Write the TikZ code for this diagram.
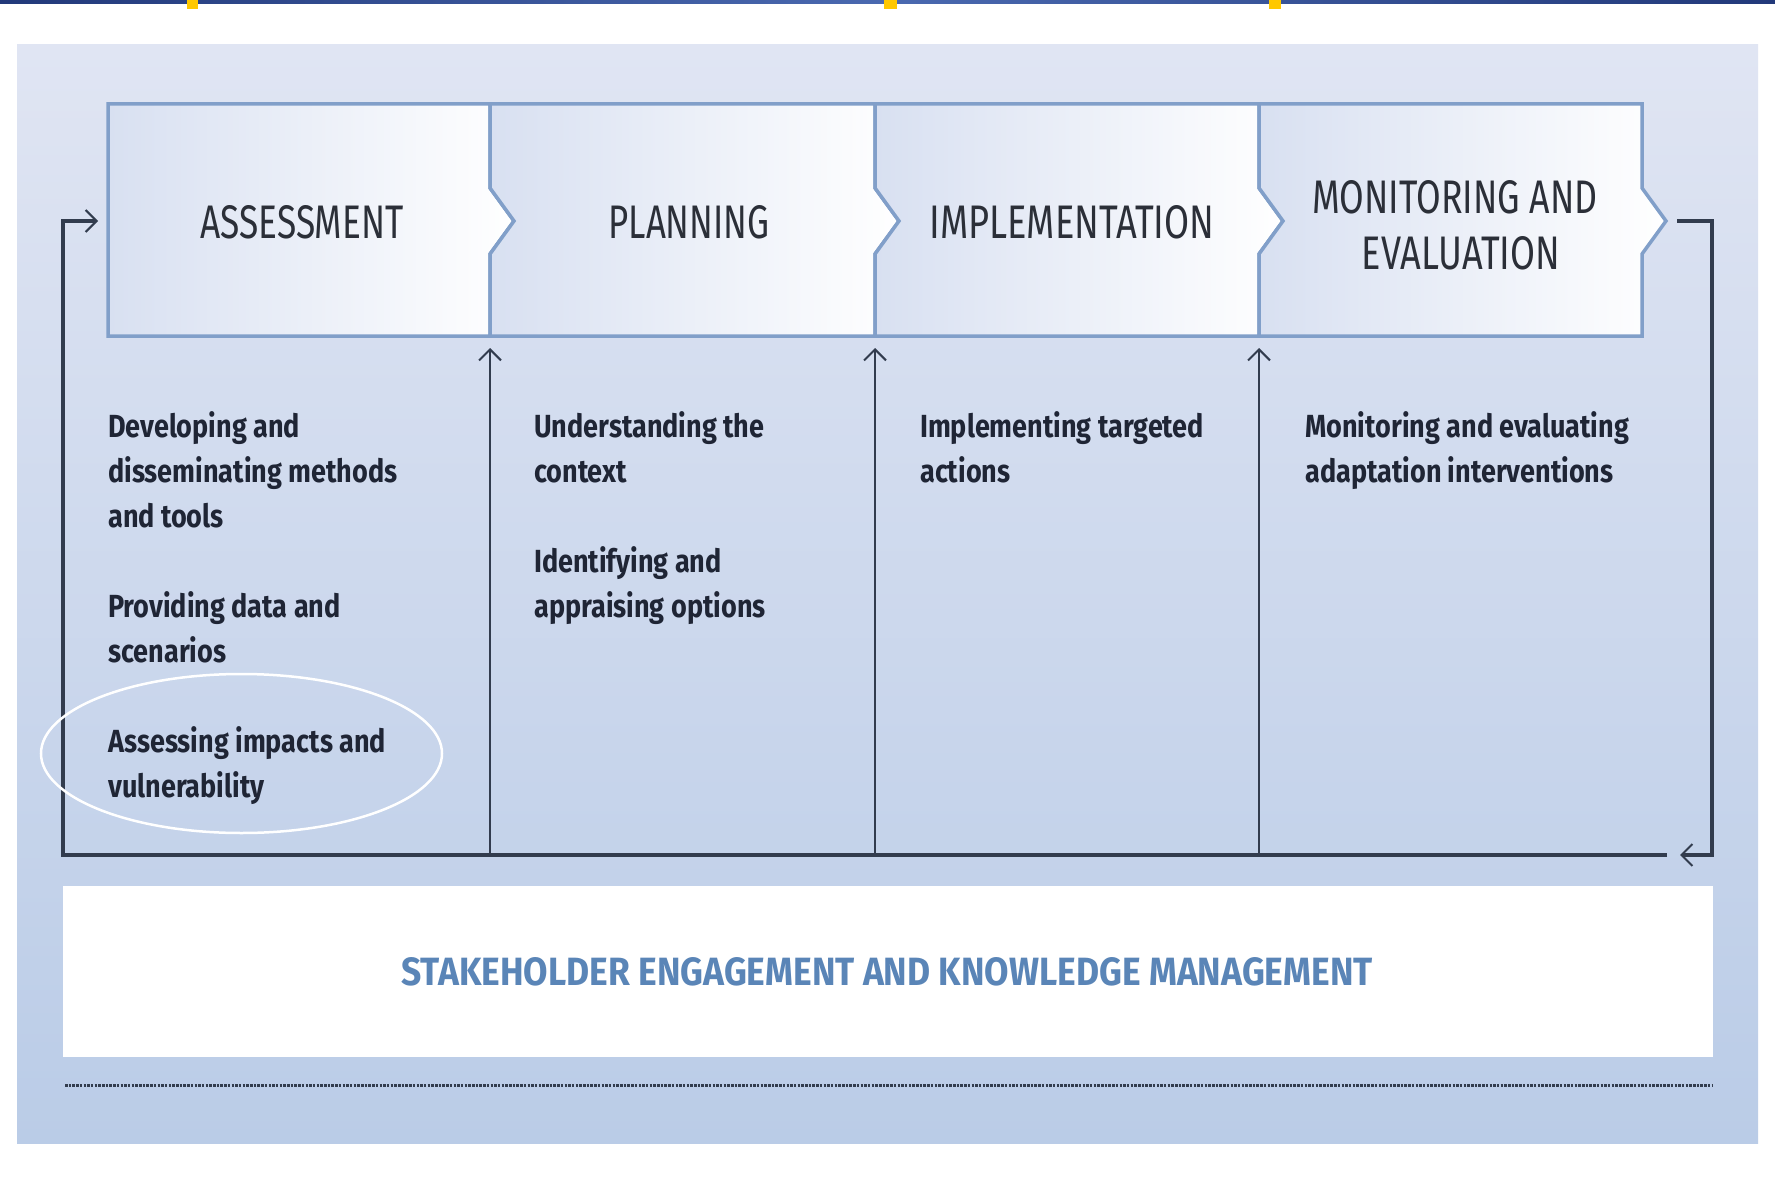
\documentclass[tikz,border=0pt]{standalone}
\usepackage{fontspec}
\setmainfont{Fira Sans}
\newfontfamily\headfont{Fira Sans}[FakeStretch=0.74]
\newfontfamily\bodyfont{Fira Sans}[FakeStretch=0.845]
\usetikzlibrary{arrows.meta}
\definecolor{panTop}{HTML}{E0E5F3}
\definecolor{panBot}{HTML}{BACCE7}
\definecolor{boxL}{HTML}{D8E0F1}
\definecolor{boxEdge}{HTML}{819FC9}
\definecolor{lineC}{HTML}{323C4E}
\definecolor{headC}{HTML}{2B2F38}
\definecolor{bodyC}{HTML}{1F2535}
\definecolor{stakeC}{HTML}{5A85B7}
\definecolor{barC}{HTML}{22397A}
\definecolor{barM}{HTML}{4A69B0}
\definecolor{yel}{HTML}{FFC800}
\tikzset{
  stagebox/.style={draw=boxEdge, line width=3.5pt, left color=boxL, right color=white, line join=miter},
  headtext/.style={inner sep=0pt, anchor=base, text=headC},
  bodytext/.style={inner sep=0pt, anchor=base west, text=bodyC, font=\bodyfont\bfseries\fontsize{32}{45}\selectfont},
  uparrow/.style={draw=lineC, line width=2.5pt, -{Straight Barb[length=11pt,width=22pt,line width=2pt]}},
  looparrow/.style={draw=lineC, line width=3.5pt, -{Straight Barb[length=11pt,width=22pt,line width=2pt]}}
}
\begin{document}
\begin{tikzpicture}[x=1pt,y=-1pt]
\useasboundingbox (0,0) rectangle (1775,1180);
\fill[white] (0,0) rectangle (1775,1180);
% top bar
\shade[left color=barC, right color=barC, middle color=barM] (0,0) rectangle (1775,4);
\fill[yel] (187,0) rectangle (198,9);
\fill[yel] (884,0) rectangle (897,9);
\fill[yel] (1269,0) rectangle (1281,9);
% panel
\shade[top color=panTop, bottom color=panBot] (17,45) rectangle (1758,1143);
% stage boxes
\path[stagebox] (108,104) -- (490,104) -- (490,188) -- (514,221) -- (490,254) -- (490,336) -- (108,336) -- cycle;
\path[stagebox] (490,104) -- (875,104) -- (875,188) -- (899,221) -- (875,254) -- (875,336) -- (490,336) -- (490,254) -- (514,221) -- (490,188) -- cycle;
\path[stagebox] (875,104) -- (1259,104) -- (1259,188) -- (1283,221) -- (1259,254) -- (1259,336) -- (875,336) -- (875,254) -- (899,221) -- (875,188) -- cycle;
\path[stagebox] (1259,104) -- (1642,104) -- (1642,188) -- (1666,221) -- (1642,254) -- (1642,336) -- (1259,336) -- (1259,254) -- (1283,221) -- (1259,188) -- cycle;
% headings
\node[headtext] (hA) at (302,238) {\resizebox{203pt}{33pt}{\headfont ASSESSMENT}};
\node[headtext] (hP) at (689,238) {\resizebox{161pt}{33pt}{\headfont PLANNING}};
\node[headtext] (hI) at (1072,238) {\resizebox{285pt}{33pt}{\headfont IMPLEMENTATION}};
\node[headtext] (hM1) at (1455,213) {\resizebox{285pt}{33pt}{\headfont MONITORING AND}};
\node[headtext] (hM2) at (1461,269) {\resizebox{198pt}{33pt}{\headfont EVALUATION}};
% coordinates for connectors
\coordinate (tipM) at (1677,221);
\coordinate (rTop) at (1712,221);
\coordinate (rBot) at (1712,855);
\coordinate (rArr) at (1680,855);
\coordinate (bEnd) at (1667,855);
\coordinate (lBot) at (63,855);
\coordinate (lTop) at (63,221);
\coordinate (inA) at (98,221);
\coordinate (d1b) at (490,855);
\coordinate (d1t) at (490,348);
\coordinate (d2b) at (875,855);
\coordinate (d2t) at (875,348);
\coordinate (d3b) at (1259,855);
\coordinate (d3t) at (1259,348);
% loop
\draw[looparrow] (tipM) -- (rTop) -- (rBot) -- (rArr);
\draw[looparrow, line cap=butt] (bEnd) -- (lBot) -- (lTop) -- (inA);
\draw[uparrow] (d1b) -- (d1t);
\draw[uparrow] (d2b) -- (d2t);
\draw[uparrow] (d3b) -- (d3t);
% body text column 1
\node[bodytext] (a1) at (108,437) {Developing and};
\node[bodytext] (a2) at (108,482) {disseminating methods};
\node[bodytext] (a3) at (108,527) {and tools};
\node[bodytext] (a4) at (108,617) {Providing data and};
\node[bodytext] (a5) at (108,662) {scenarios};
\node[bodytext] (a6) at (108,752) {Assessing impacts and};
\node[bodytext] (a7) at (108,797) {vulnerability};
% column 2
\node[bodytext] (p1) at (534,437) {Understanding the};
\node[bodytext] (p2) at (534,482) {context};
\node[bodytext] (p3) at (534,572) {Identifying and};
\node[bodytext] (p4) at (534,617) {appraising options};
% column 3
\node[bodytext] (i1) at (920,437) {Implementing targeted};
\node[bodytext] (i2) at (920,482) {actions};
% column 4
\node[bodytext] (m1) at (1305,437) {Monitoring and evaluating};
\node[bodytext] (m2) at (1305,482) {adaptation interventions};
% highlight ellipse
\draw[white, line width=2.5pt] (241.5,753.5) ellipse [x radius=200.5, y radius=79.5];
% bottom band
\fill[white] (63,886) rectangle (1713,1057);
\node[inner sep=0pt, anchor=base, text=stakeC] (stake) at (887,985) {\resizebox{971pt}{28pt}{\headfont\bfseries STAKEHOLDER ENGAGEMENT AND KNOWLEDGE MANAGEMENT}};
\draw[draw=lineC, line width=3pt, dash pattern=on 2.5pt off 1.2pt] (65,1085) -- (1713,1085);
\end{tikzpicture}
\end{document}
